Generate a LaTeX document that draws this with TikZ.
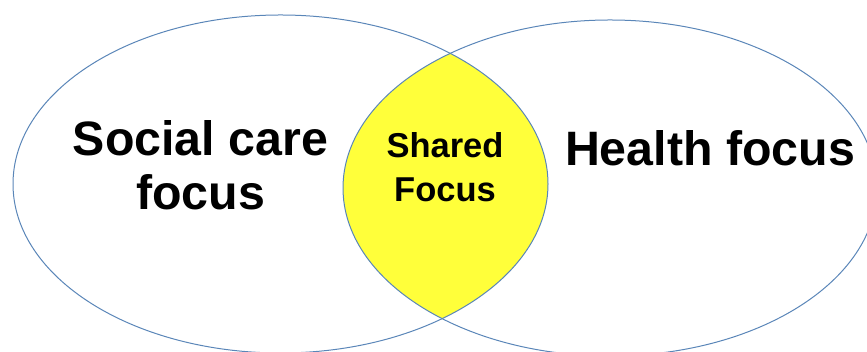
\documentclass[tikz,border=0pt]{standalone}
\usepackage{fontspec}
\usepackage{tikz}
\setmainfont{Liberation Sans}
\definecolor{ringblue}{HTML}{5A86B8}
\definecolor{lensyellow}{HTML}{FFFF3A}
\tikzset{
    ring/.style={draw=ringblue, line width=1pt},
    bigtext/.style={font=\bfseries\fontsize{48.3}{54}\selectfont, align=center, inner sep=0pt},
    smalltext/.style={font=\bfseries\fontsize{34.5}{44}\selectfont, align=center, inner sep=0pt}
}

\begin{document}
\begin{tikzpicture}[x=1pt, y=1pt]
            \useasboundingbox (0,0) rectangle (867,352);

            \coordinate (S) at (280.5,168);
            \coordinate (H) at (610,164);

            % shared part
            \begin{scope}
                \clip (S) ellipse [x radius=267.5, y radius=169];
                \fill[lensyellow] (H) ellipse [x radius=267, y radius=168];
            \end{scope}

            \draw[ring] (S) ellipse [x radius=267.5, y radius=169];
            \draw[ring] (H) ellipse [x radius=267, y radius=168];

            \node[bigtext, anchor=north] (social) at (200.5,232) {Social care\\focus};
            \node[bigtext, anchor=base] (health) at (710,186) {Health focus};
            \node[smalltext, anchor=north] (shared) at (445,220) {Shared\\Focus};
        \end{tikzpicture}
\end{document}
